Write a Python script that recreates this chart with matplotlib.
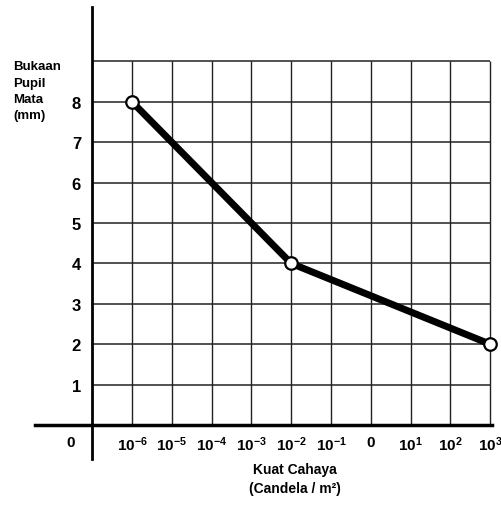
import matplotlib
matplotlib.use('Agg')
import matplotlib.pyplot as plt

# ---- data ----
x_tick_labels = [r'$\mathbf{10^{-6}}$', r'$\mathbf{10^{-5}}$', r'$\mathbf{10^{-4}}$',
                 r'$\mathbf{10^{-3}}$', r'$\mathbf{10^{-2}}$', r'$\mathbf{10^{-1}}$',
                 '0', r'$\mathbf{10^{1}}$', r'$\mathbf{10^{2}}$', r'$\mathbf{10^{3}}$']
origin_label = '0'
y_tick_values = [1, 2, 3, 4, 5, 6, 7, 8]
grid_y = [1, 2, 3, 4, 5, 6, 7, 8, 9]
point_index = [0, 4, 9]
pupil_mm = [8, 4, 2]
y_title = 'Bukaan\nPupil\nMata\n(mm)'
x_title_1 = 'Kuat Cahaya'
x_title_2 = '(Candela / m²)'

plt.rcParams['font.family'] = ['Liberation Sans', 'DejaVu Sans']
plt.rcParams['font.weight'] = 'bold'
plt.rcParams['mathtext.fontset'] = 'custom'
plt.rcParams['mathtext.rm'] = 'Liberation Sans:bold'
plt.rcParams['mathtext.bf'] = 'Liberation Sans:bold'
plt.rcParams['mathtext.it'] = 'Liberation Sans:bold'

fig = plt.figure(figsize=(5.01, 5.06), dpi=100)
ax = fig.add_axes([0, 0, 1, 1])
ax.set_xlim(-3.317, 9.271)
ax.set_ylim(-1.98, 10.545)
ax.patch.set_alpha(0)

for s in ['top', 'right']:
    ax.spines[s].set_visible(False)
ax.spines['left'].set_position(('data', -1.0))
ax.spines['left'].set_bounds(-0.84, 10.35)
ax.spines['left'].set_linewidth(2.0)
ax.spines['bottom'].set_position(('data', 0))
ax.spines['bottom'].set_bounds(-2.44, 9.05)
ax.spines['bottom'].set_linewidth(2.5)

n = len(x_tick_labels)
# grid
ax.hlines(grid_y, -1.0, n - 1, color='#222222', lw=1.1, zorder=1)
ax.vlines(range(n), 0, max(grid_y), color='#222222', lw=1.0, zorder=1)

# ticks
ax.set_xticks([-1.54] + list(range(n)))
ax.set_xticklabels([origin_label] + x_tick_labels, fontsize=11, fontweight='bold')
ax.set_yticks(y_tick_values)
ax.set_yticklabels([str(v) for v in y_tick_values], fontsize=12, fontweight='bold')
ax.tick_params(axis='x', length=0, pad=7)
ax.tick_params(axis='y', length=0, pad=8)

# data line
ax.plot(point_index, pupil_mm, color='black', lw=5, solid_capstyle='round',
        marker='o', markersize=9, markerfacecolor='white', markeredgecolor='black',
        markeredgewidth=1.6, zorder=5, clip_on=False)

# titles
fig.text(13 / 501, 1 - 61 / 506, y_title, ha='left', va='top', fontsize=9.5,
         fontweight='bold', linespacing=1.5)
fig.text(295 / 501, 1 - 470 / 506, x_title_1, ha='center', va='center', fontsize=10,
         fontweight='bold')
fig.text(295 / 501, 1 - 489 / 506, x_title_2, ha='center', va='center', fontsize=10,
         fontweight='bold')

fig.savefig('out.png', dpi=100)
